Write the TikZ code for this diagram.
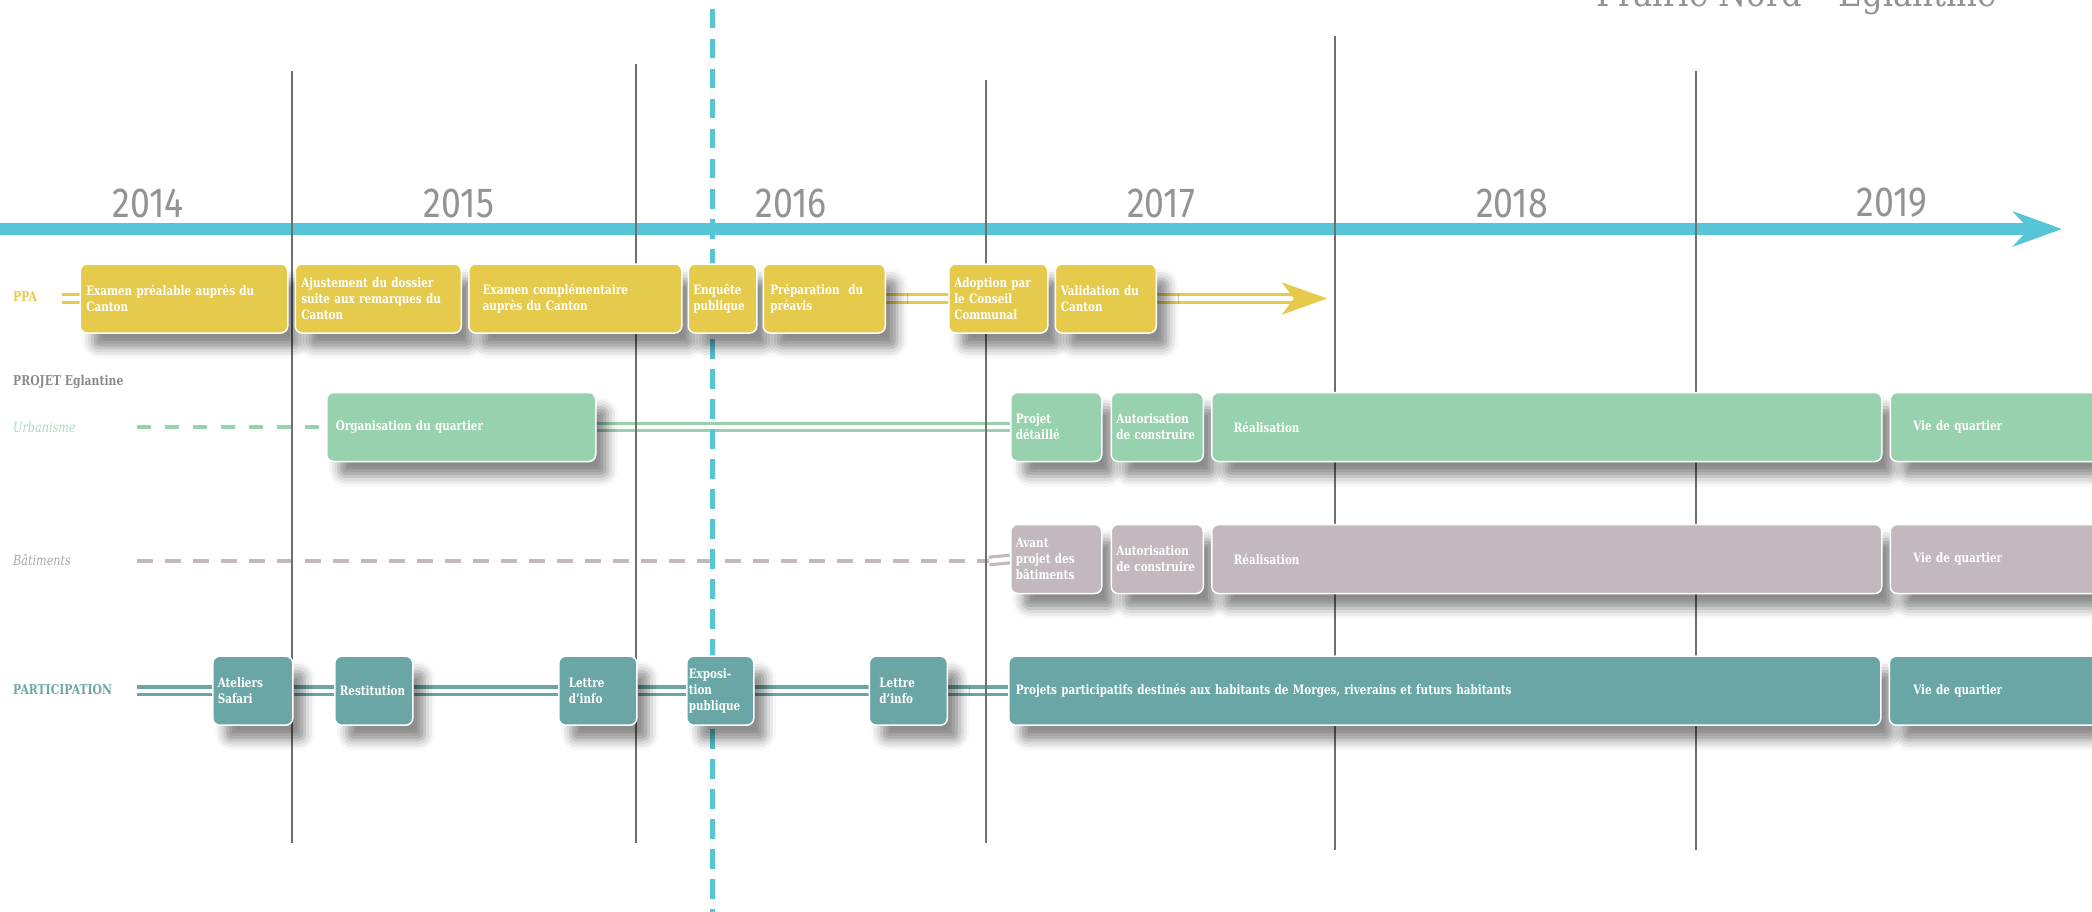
\documentclass[tikz,border=0pt]{standalone}
\usepackage{fontspec}
\newfontfamily\boxfont[FakeStretch=0.8]{DejaVu Serif}
\newfontfamily\yearfont[FakeStretch=0.85]{Fira Sans}
\newfontfamily\titlefont[FakeStretch=0.85]{DejaVu Serif}
\usetikzlibrary{positioning,arrows.meta,shadows.blur}

\definecolor{ppayellow}{HTML}{E5CA4B}
\definecolor{urbgreen}{HTML}{97D1AE}
\definecolor{batmauve}{HTML}{C2B8BD}
\definecolor{partteal}{HTML}{6AA6A6}
\definecolor{nowblue}{HTML}{55C5D7}
\definecolor{linegray}{HTML}{6F6F6F}
\definecolor{yeargray}{HTML}{939393}
\definecolor{labelgray}{HTML}{8A8A8A}
\definecolor{urblabel}{HTML}{A8DCC0}
\definecolor{batlabel}{HTML}{A9A9A9}

\pgfdeclarelayer{back}
\pgfsetlayers{back,main}

\begin{document}
\begin{tikzpicture}[x=1pt,y=-1pt,node distance=6pt,
  phase/.style={rectangle,rounded corners=7pt,draw=white,line width=1.5pt,text=white,anchor=west,
    font=\boxfont\bfseries\fontsize{13}{16}\selectfont,align=left,inner ysep=0pt,minimum height=69pt,
    blur shadow={shadow xshift=12pt,shadow yshift=-15pt,shadow blur radius=10pt,shadow opacity=45}},
  bwi/.style 2 args={minimum width=#1pt,inner xsep=#2pt,
    /utils/exec={\pgfmathsetlengthmacro\boxtw{#1pt-2*#2pt}},text width=\boxtw},
  bw/.style={bwi={#1}{6}},
  ppa/.style={phase,fill=ppayellow},
  urb/.style={phase,fill=urbgreen},
  bat/.style={phase,fill=batmauve},
  part/.style={phase,fill=partteal},
  twin/.style={draw=#1,line width=3.2pt,double=white,double distance=4.4pt},
  dashrow/.style={draw=#1,line width=3.5pt,dash pattern=on 14pt off 14pt},
  lab/.style={anchor=west,inner sep=0pt,font=\boxfont\bfseries\fontsize{13.5}{15}\selectfont},
  ital/.style={anchor=west,inner sep=0pt,font=\boxfont\itshape\fontsize{14}{16}\selectfont},
  year/.style={inner sep=0pt,text=yeargray,font=\yearfont\fontsize{42}{42}\selectfont},
  yearline/.style={draw=linegray,line width=1.1pt},
  nowline/.style={draw=nowblue,line width=5pt,dash pattern=on 19.5pt off 10.5pt},
  timeline/.style={draw=nowblue,line width=12pt,-{Stealth[length=49pt,width=35pt,inset=16pt]}}]

\useasboundingbox (0,0) rectangle (2092,912);

\node[anchor=base east,inner sep=0pt,text=yeargray,font=\titlefont\fontsize{38}{38}\selectfont]
  (title) at (1997,7) {Prairie Nord – Eglantine};

\node[year] (y14) at (148,203) {2014};
\node[year] (y15) at (459,203) {2015};
\node[year] (y16) at (791,203) {2016};
\node[year] (y17) at (1161,203) {2017};
\node[year] (y18) at (1512,203) {2018};
\node[year] (y19) at (1892,203) {2019};

\coordinate (tstart) at (-10,229);
\coordinate (tend) at (2062,229);

% PPA
\node[lab,text=ppayellow] (lppa) at (13,297) {PPA};
\coordinate (ppastart) at (62,298.5);
\node[ppa,bw=207.5] (b1) at (79.5,298.5) {Examen préalable auprès du\\Canton};
\node[ppa,bw=166,right=of b1] (b2) {Ajustement du dossier\\suite aux remarques du\\Canton};
\node[ppa,bwi={213}{14},right=of b2] (b3) {Examen complémentaire\\auprès du Canton};
\node[ppa,bwi={68.5}{5},right=5pt of b3] (b4) {Enquête\\publique};
\node[ppa,bwi={122}{7},right=5pt of b4] (b5) {Préparation~~du\\préavis};
\node[ppa,bwi={99}{5.5}] (b6) at (948,298.5) {Adoption par\\le Conseil\\Communal};
\node[ppa,bwi={101}{5.5},right=of b6] (b7) {Validation du\\Canton};
\coordinate (ppaend) at (1292,298.5);
\coordinate (ppatip) at (1327,298.5);

% PROJET Eglantine
\node[lab,text=labelgray] (lproj) at (13,382) {PROJET Eglantine};

\node[ital,text=urblabel] (lurb) at (13,427) {Urbanisme};
\coordinate (urbstart) at (137,427);
\node[urb,bwi={269}{9}] (org) at (326,427) {Organisation du quartier};
\node[urb,bwi={91}{5}] (pd) at (1010,427) {Projet\\détaillé};
\node[urb,bwi={92}{5},right=8pt of pd] (au1) {Autorisation\\de construire};
\node[urb,bwi={670}{22},right=7pt of au1] (re1) {Réalisation};
\node[urb,bwi={230}{23},right=7pt of re1] (vq1) {Vie de quartier};

\node[ital,text=batlabel] (lbat) at (13,560) {Bâtiments};
\coordinate (batstart) at (137,561);
\coordinate (batend) at (989,561);
\node[bat,bwi={91}{5}] (avp) at (1010,559) {Avant\\projet des\\bâtiments};
\node[bat,bwi={92}{5},right=8pt of avp] (au2) {Autorisation\\de construire};
\node[bat,bwi={670}{22},right=7pt of au2] (re2) {Réalisation};
\node[bat,bwi={230}{23},right=7pt of re2] (vq2) {Vie de quartier};

% PARTICIPATION
\node[lab,text=partteal] (lpart) at (13,690) {PARTICIPATION};
\coordinate (partstart) at (137,690.7);
\node[part,bwi={80}{5}] (ate) at (212,690.7) {Ateliers\\Safari};
\node[part,bwi={78}{5}] (res) at (334,690.7) {Restitution};
\node[part,bwi={78}{10}] (let1) at (558,690.7) {Lettre\\d’info};
\node[part,bwi={67}{2}] (expo) at (686,690.7) {Exposi-\\tion\\publique};
\node[part,bwi={78}{10}] (let2) at (868.6,690.7) {Lettre\\d’info};
\node[part,bwi={872}{7}] (ppt) at (1008,690.7) {Projets participatifs destinés aux habitants de Morges, riverains et futurs habitants};
\node[part,bwi={230}{24},right=7pt of ppt] (vq3) {Vie de quartier};

\begin{pgfonlayer}{back}
\draw[timeline] (tstart) -- (tend);

\draw[twin=ppayellow] (ppastart) -- (b1.west);
\draw[twin=ppayellow] (b5.east) -- (b6.west);
\draw[twin=ppayellow] (b7.east) -- (ppaend);
\draw[ppayellow,line width=0.01pt,-{Stealth[length=45pt,width=32pt,inset=12pt]}] (ppaend) -- (ppatip);

\draw[dashrow=urbgreen] (urbstart) -- (org.west);
\draw[twin=urbgreen] (org.east) -- (pd.west);

\draw[dashrow=batmauve,dash pattern=on 16pt off 12pt] (batstart) -- (batend);
\draw[twin=batmauve] (batend) -- (avp.west);

\draw[twin=partteal] (partstart) -- (ate.west);
\draw[twin=partteal] (ate.east) -- (res.west);
\draw[twin=partteal] (res.east) -- (let1.west);
\draw[twin=partteal] (let1.east) -- (expo.west);
\draw[twin=partteal] (expo.east) -- (let2.west);
\draw[twin=partteal] (let2.east) -- (ppt.west);

\foreach \x/\a/\b in {292/71/843,636/64/843,986/80/843,1335/36/850,1696/71/850}
  \draw[yearline] (\x,\a) -- (\x,\b);
\draw[nowline] (712,9) -- (712,915);
\end{pgfonlayer}
\end{tikzpicture}
\end{document}
